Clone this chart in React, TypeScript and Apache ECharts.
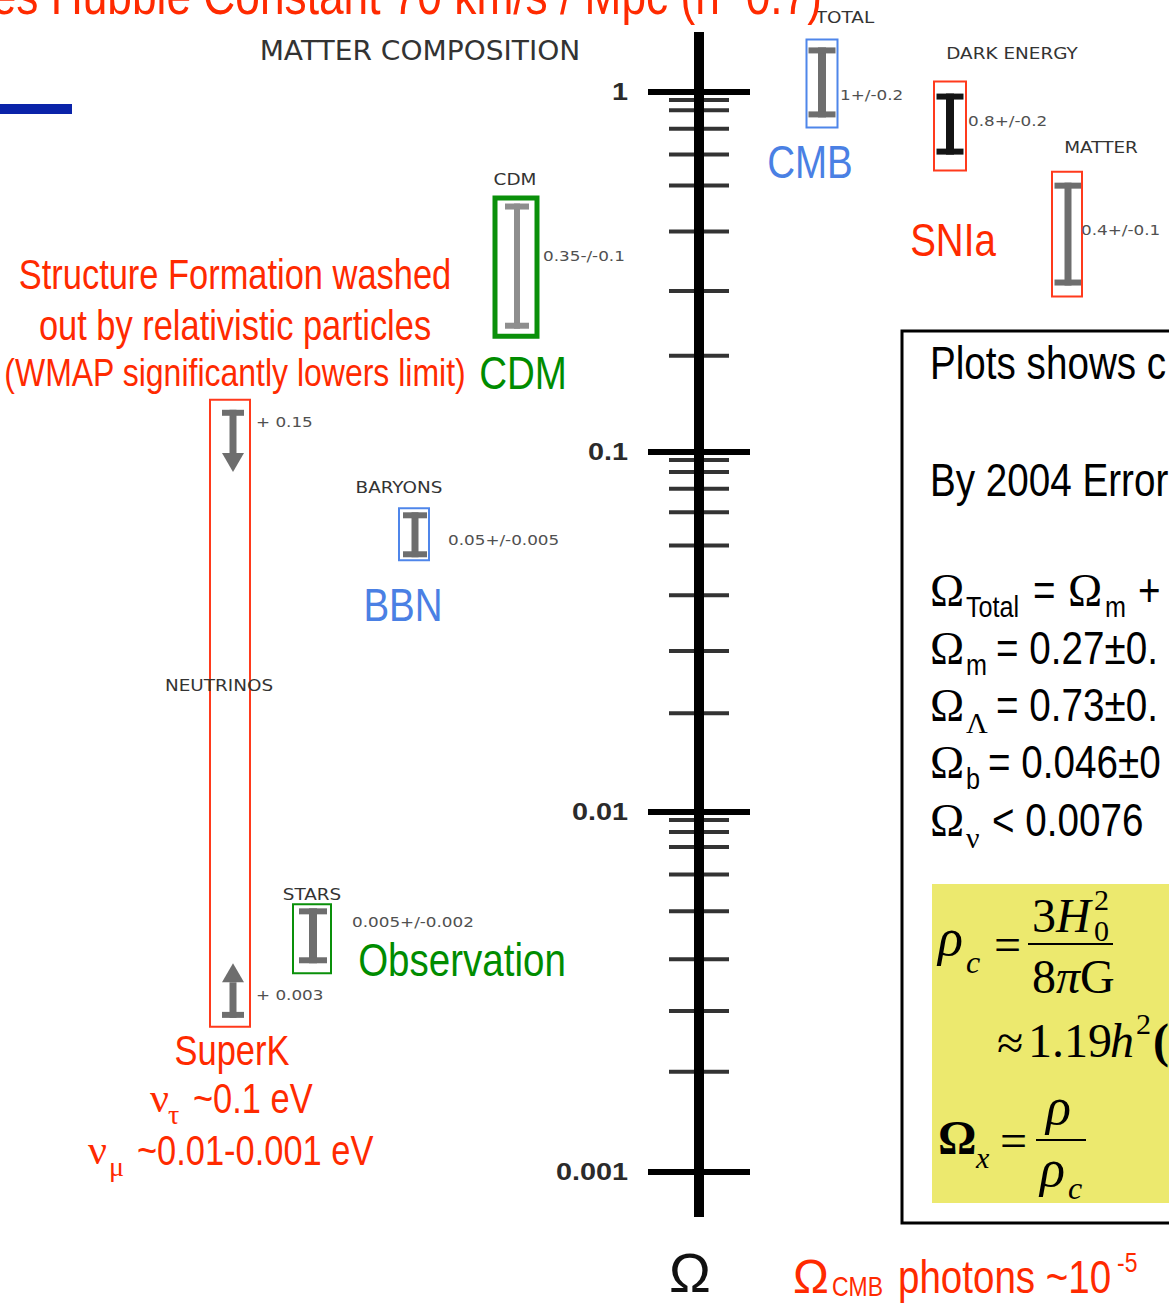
import React, { useEffect, useRef } from "react";
import * as echarts from "echarts";

// ---------------- data ----------------
const majorTicks = [1, 0.1, 0.01, 0.001];
const majorTickLabels = ["1", "0.1", "0.01", "0.001"];
const minorTicks = [
  0.95, 0.89, 0.79, 0.67, 0.55, 0.41, 0.28, 0.185,
  0.095, 0.088, 0.079, 0.068, 0.055, 0.04, 0.028, 0.0188,
  0.0095, 0.0088, 0.008, 0.0067, 0.0053, 0.0039, 0.0028, 0.0019,
];
const measureNames = ["TOTAL", "DARK ENERGY", "MATTER", "CDM", "BARYONS", "STARS"];
const measureCentral = [1, 0.8, 0.4, 0.35, 0.05, 0.005];
const measureLabels = ["1+/-0.2", "0.8+/-0.2", "0.4+/-0.1", "0.35-/-0.1", "0.05+/-0.005", "0.005+/-0.002"];
const measureHigh = [1.33, 0.99, 0.56, 0.49, 0.068, 0.0054];
const measureLow = [0.85, 0.67, 0.29, 0.22, 0.051, 0.0038];
const neutrinoName = "NEUTRINOS";
const neutrinoLimitLabels = ["+ 0.15", "+ 0.003"];
const neutrinoCapValues = [0.131, 0.00268];
const neutrinoArrowTips = [0.088, 0.0038];

// ---------------- layout / style ----------------
const W = 1169;
const H = 1304;
const AXIS_X = 699;
const AXIS_TOP = 32;
const AXIS_BOTTOM = 1217;
const Y_MAX = Math.pow(10, (92 - AXIS_TOP) / 360);
const Y_MIN = Math.pow(10, -3 - (AXIS_BOTTOM - 1172) / 360);

const SANS = "'Liberation Sans', Arial, Helvetica, sans-serif";
const SERIF = "'Liberation Serif', 'Times New Roman', serif";
const COMIC = "'DejaVu Sans', sans-serif";
const NARROW = 0.82;

const RED = "#ff2a00";
const BLUE = "#4a80e4";
const GREEN = "#008c00";
const RED_BOX = "#ff3a1c";
const BLUE_BOX = "#4f86ea";
const GREEN_BOX = "#0a900a";
const GRAY = "#6e6e6e";

const measureLayout = [
  { x: 822, boxW: 31, padT: 8, padB: 10, lw: 2, box: BLUE_BOX, bar: GRAY, capW: 27, stemW: 8, valDx: 18, valDy: 3, nameDx: 23, nameDy: -22, boxDx: 0 },
  { x: 950, boxW: 32, padT: 12, padB: 16, lw: 2, box: RED_BOX, bar: "#141414", capW: 27, stemW: 8, valDx: 18, valDy: -5, nameDx: 62, nameDy: -28, boxDx: 0 },
  { x: 1068, boxW: 30, padT: 11, padB: 11, lw: 2, box: RED_BOX, bar: GRAY, capW: 27, stemW: 7, valDx: 13, valDy: -5, nameDx: 33, nameDy: -24, boxDx: -1 },
  { x: 517, boxW: 42, padT: 5.5, padB: 7.5, lw: 5, box: GREEN_BOX, bar: "#8e8e8e", capW: 24, stemW: 6, valDx: 26, valDy: 0, nameDx: -2, nameDy: -19, boxDx: -1 },
  { x: 415, boxW: 30, padT: 4, padB: 3, lw: 2, box: BLUE_BOX, bar: GRAY, capW: 24, stemW: 7, valDx: 33, valDy: -20, nameDx: -16, nameDy: -21, boxDx: -1 },
  { x: 313, boxW: 38, padT: 4, padB: 10, lw: 2, box: GREEN_BOX, bar: GRAY, capW: 28, stemW: 8, valDx: 39, valDy: 2, nameDx: -1, nameDy: -10, boxDx: -1 },
];
const neutrinoLayout = { x: 233, boxX: 230, boxW: 40, padT: 10, padB: 9, capW: 22, stemW: 7, arrowW: 22, arrowH: 19, labelDx: 23, labelDy: [13, -22], nameDx: -14, nameDy: -28 };

function T(text: string, x: number, y: number, size: number, fill: string, o: any = {}) {
  const align = o.align || "left";
  const va = o.va || "middle";
  const style: any = {
    text,
    fill,
    fontSize: size,
    fontFamily: o.family || SANS,
    fontWeight: o.weight || "normal",
    fontStyle: o.italic ? "italic" : "normal",
    textAlign: align,
    textVerticalAlign: va,
    align,
    verticalAlign: va,
  };
  if (o.lh) {
    style.lineHeight = o.lh;
    style.textLineHeight = o.lh;
  }
  return { type: "text", x, y, scaleX: o.sx ?? NARROW, z: o.z ?? 10, style };
}

function buildGraphic() {
  const g: any[] = [];
  // title (cut at the top of the page)
  g.push(T("Assumes Hubble Constant 70 km/s / Mpc (h~0.7)", 822, -5, 54, RED, { align: "right" }));
  g.push({ type: "rect", shape: { x: 0, y: 104, width: 72, height: 10 }, style: { fill: "#0a23a9" } });
  g.push(T("MATTER COMPOSITION", 420, 50, 27, "#333333", { align: "center", family: COMIC, sx: 1.04 }));

  // left red explanation
  g.push(T("Structure Formation washed", 235, 274, 42, RED, { align: "center" }));
  g.push(T("out by relativistic particles", 235, 325, 42, RED, { align: "center" }));
  g.push(T("(WMAP significantly lowers limit)", 235, 373, 39, RED, { align: "center" }));

  // method labels
  g.push(T("CDM", 523, 373, 47, GREEN, { align: "center" }));
  g.push(T("CMB", 810, 162, 47, BLUE, { align: "center" }));
  g.push(T("SNIa", 953, 240, 47, RED, { align: "center" }));
  g.push(T("BBN", 403, 605, 47, BLUE, { align: "center" }));
  g.push(T("Observation", 462, 960, 47, GREEN, { align: "center" }));

  // SuperK
  g.push(T("SuperK", 232, 1050, 42, RED, { align: "center" }));
  g.push(T("ν", 150, 1098, 42, RED, { family: SERIF, sx: 1 }));
  g.push(T("τ", 168, 1114, 28, RED, { family: SERIF, sx: 1 }));
  g.push(T("~0.1 eV", 193, 1098, 42, RED));
  g.push(T("ν", 88, 1150, 42, RED, { family: SERIF, sx: 1 }));
  g.push(T("μ", 109, 1166, 28, RED, { family: SERIF, sx: 1 }));
  g.push(T("~0.01-0.001 eV", 137, 1150, 42, RED));

  // bottom
  g.push(T("Ω", 690, 1272, 56, "#111111", { align: "center", sx: 1 }));
  g.push(T("Ω", 793, 1276, 48, RED, { sx: 1 }));
  g.push(T("CMB", 832, 1286, 28, RED));
  g.push(T("photons ~10", 898, 1277, 47, RED));
  g.push(T("-5", 1117, 1262, 28, RED));

  // right info box
  g.push({ type: "rect", shape: { x: 902, y: 331, width: 300, height: 892 }, style: { fill: "none", stroke: "#000", lineWidth: 3 } });
  const BOX_SX = 0.84;
  g.push(T("Plots shows c", 930, 363, 46, "#000", { sx: BOX_SX }));
  g.push(T("By 2004 Error", 930, 480, 46, "#000", { sx: BOX_SX }));

  const lines = [
    { y: 590, sub: "Total", subSerif: false, rest: "", x0: 0 },
    { y: 648, sub: "m", subSerif: false, rest: "= 0.27±0.", x0: 996 },
    { y: 705, sub: "Λ", subSerif: true, rest: "= 0.73±0.", x0: 996 },
    { y: 762, sub: "b", subSerif: false, rest: "= 0.046±0", x0: 988 },
    { y: 820, sub: "ν", subSerif: true, rest: "< 0.0076", x0: 992 },
  ];
  lines.forEach((l, i) => {
    g.push(T("Ω", 930, l.y, 46, "#000", { family: SERIF, sx: 1 }));
    g.push(T(l.sub, 966, l.y + 17, 30, "#000", l.subSerif ? { family: SERIF, sx: 1 } : { sx: BOX_SX }));
    if (i === 0) {
      g.push(T("=", 1033, l.y, 46, "#000", { sx: BOX_SX }));
      g.push(T("Ω", 1068, l.y, 46, "#000", { family: SERIF, sx: 1 }));
      g.push(T("m", 1105, l.y + 17, 30, "#000", { sx: BOX_SX }));
      g.push(T("+", 1138, l.y, 46, "#000", { sx: BOX_SX }));
    } else {
      g.push(T(l.rest, l.x0, l.y, 46, "#000", { sx: BOX_SX }));
    }
  });

  // yellow formula panel
  g.push({ type: "rect", shape: { x: 932, y: 884, width: 260, height: 319 }, style: { fill: "#ece96e" } });
  const S = (t: string, x: number, y: number, s: number, o: any = {}) => T(t, x, y, s, "#000", { family: SERIF, sx: 1, ...o });
  g.push(S("ρ", 938, 937, 52, { italic: true }));
  g.push(S("c", 966, 962, 32, { italic: true }));
  g.push(S("=", 994, 944, 48));
  g.push(S("3", 1032, 915, 48));
  g.push(S("H", 1056, 915, 48, { italic: true }));
  g.push(S("2", 1094, 899, 30));
  g.push(S("0", 1094, 930, 30));
  g.push({ type: "rect", shape: { x: 1028, y: 943, width: 85, height: 2 }, style: { fill: "#000" } });
  g.push(S("8", 1032, 976, 48));
  g.push(S("π", 1056, 976, 48, { italic: true }));
  g.push(S("G", 1080, 976, 48));
  g.push(S("≈", 997, 1042, 48));
  g.push(S("1.19", 1028, 1040, 48));
  g.push(S("h", 1110, 1040, 48, { italic: true }));
  g.push(S("2", 1136, 1023, 30));
  g.push(S("(", 1153, 1040, 48, { weight: "bold" }));
  g.push(S("Ω", 938, 1137, 48, { weight: "bold" }));
  g.push(S("x", 976, 1157, 30, { italic: true }));
  g.push(S("=", 1000, 1140, 48));
  g.push(S("ρ", 1046, 1106, 52, { italic: true }));
  g.push({ type: "rect", shape: { x: 1036, y: 1139, width: 50, height: 2 }, style: { fill: "#000" } });
  g.push(S("ρ", 1040, 1168, 52, { italic: true }));
  g.push(S("c", 1068, 1188, 32, { italic: true }));
  return g;
}

function smallText(text: string, x: number, y: number, size: number, fill: string, sx: number, align = "left") {
  return {
    type: "text",
    x,
    y,
    scaleX: sx,
    z2: 20,
    style: {
      text,
      fill,
      fontSize: size,
      fontFamily: COMIC,
      textAlign: align,
      textVerticalAlign: "middle",
      align,
      verticalAlign: "middle",
    },
  };
}

function buildOption() {
  return {
    animation: false,
    backgroundColor: "#ffffff",
    grid: { left: 0, right: 0, top: AXIS_TOP, bottom: H - AXIS_BOTTOM, containLabel: false },
    xAxis: { type: "value", min: 0, max: W, show: false },
    yAxis: { type: "log", logBase: 10, min: Y_MIN, max: Y_MAX, show: false },
    series: [
      {
        type: "line",
        data: [
          [AXIS_X, Y_MAX],
          [AXIS_X, Y_MIN],
        ],
        symbol: "none",
        silent: true,
        lineStyle: { color: "#000", width: 10, cap: "butt" },
        z: 3,
      },
      {
        type: "scatter",
        data: minorTicks.map((v) => [AXIS_X, v]),
        symbol: "rect",
        symbolSize: [60, 4],
        silent: true,
        itemStyle: { color: "#000" },
        z: 4,
      },
      {
        type: "custom",
        data: majorTicks.map((v) => [AXIS_X, v]),
        silent: true,
        z: 5,
        renderItem: (params: any, api: any) => {
          const p = api.coord([api.value(0), api.value(1)]);
          return {
            type: "group",
            children: [
              { type: "rect", shape: { x: p[0] - 51, y: p[1] - 3, width: 102, height: 6 }, style: { fill: "#000" } },
              {
                type: "text",
                x: p[0] - 71,
                y: p[1],
                scaleX: 1.2,
                style: {
                  text: majorTickLabels[params.dataIndex],
                  fill: "#2b2b2b",
                  fontSize: 24,
                  fontWeight: "bold",
                  fontFamily: SANS,
                  textAlign: "right",
                  textVerticalAlign: "middle",
                  align: "right",
                  verticalAlign: "middle",
                },
              },
            ],
          };
        },
      },
      {
        type: "custom",
        data: measureNames.map((n, i) => [measureLayout[i].x, measureHigh[i], measureLow[i], measureCentral[i]]),
        silent: true,
        z: 6,
        renderItem: (params: any, api: any) => {
          const i = params.dataIndex;
          const L = measureLayout[i];
          const pt = api.coord([api.value(0), api.value(1)]);
          const pb = api.coord([api.value(0), api.value(2)]);
          const pm = api.coord([api.value(0), api.value(3)]);
          const cx = pt[0];
          const yT = pt[1];
          const yB = pb[1];
          const bx = cx + L.boxDx - L.boxW / 2;
          const by = yT - L.padT;
          return {
            type: "group",
            children: [
              { type: "rect", shape: { x: cx - L.stemW / 2, y: yT, width: L.stemW, height: yB - yT }, style: { fill: L.bar } },
              { type: "rect", shape: { x: cx - L.capW / 2, y: yT, width: L.capW, height: 6 }, style: { fill: L.bar } },
              { type: "rect", shape: { x: cx - L.capW / 2, y: yB - 6, width: L.capW, height: 6 }, style: { fill: L.bar } },
              {
                type: "rect",
                shape: { x: bx, y: by, width: L.boxW, height: yB - yT + L.padT + L.padB },
                style: { fill: "none", stroke: L.box, lineWidth: L.lw },
              },
              smallText(measureLabels[i], cx + L.valDx, pm[1] + L.valDy, 14, "#505050", 1.2),
              smallText(measureNames[i], cx + L.nameDx, by + L.nameDy, 16, "#333333", 1.15, "center"),
            ],
          };
        },
      },
      {
        type: "custom",
        data: neutrinoCapValues.map((v, i) => [neutrinoLayout.x, v, neutrinoArrowTips[i]]),
        silent: true,
        z: 6,
        renderItem: (params: any, api: any) => {
          const i = params.dataIndex;
          const L = neutrinoLayout;
          const pc = api.coord([api.value(0), api.value(1)]);
          const pt = api.coord([api.value(0), api.value(2)]);
          const cx = pc[0];
          const yC = pc[1];
          const yTip = pt[1];
          const dir = yTip > yC ? 1 : -1;
          const base = yTip - dir * L.arrowH;
          const capY = dir > 0 ? yC : yC - 6;
          const stemA = Math.min(yC, base);
          const stemB = Math.max(yC, base);
          const children: any[] = [
            { type: "rect", shape: { x: cx - L.capW / 2, y: capY, width: L.capW, height: 6 }, style: { fill: GRAY } },
            { type: "rect", shape: { x: cx - L.stemW / 2, y: stemA, width: L.stemW, height: stemB - stemA }, style: { fill: GRAY } },
            {
              type: "polygon",
              shape: {
                points: [
                  [cx - L.arrowW / 2, base],
                  [cx + L.arrowW / 2, base],
                  [cx, yTip],
                ],
              },
              style: { fill: GRAY },
            },
            smallText(neutrinoLimitLabels[i], cx + L.labelDx, yC + L.labelDy[i], 14, "#505050", 1.2),
          ];
          if (i === 0) {
            const top = yC - L.padT;
            const bottom = api.coord([api.value(0), neutrinoCapValues[1]])[1] + L.padB;
            children.push({
              type: "rect",
              shape: { x: L.boxX - L.boxW / 2, y: top, width: L.boxW, height: bottom - top },
              style: { fill: "none", stroke: RED_BOX, lineWidth: 2 },
            });
            children.push(smallText(neutrinoName, cx + L.nameDx, (top + bottom) / 2 + L.nameDy, 16, "#333333", 1.15, "center"));
          }
          return { type: "group", children };
        },
      },
    ],
    graphic: buildGraphic(),
  };
}

export default function App() {
  const ref = useRef<HTMLDivElement>(null);
  useEffect(() => {
    if (!ref.current) return;
    const chart = echarts.init(ref.current, undefined, { renderer: "svg", width: W, height: H });
    chart.setOption(buildOption() as any);
    return () => chart.dispose();
  }, []);
  return (
    <div
      ref={ref}
      style={{ position: "absolute", left: 0, top: 0, width: W, height: H, background: "#fff", overflow: "hidden" }}
    />
  );
}
